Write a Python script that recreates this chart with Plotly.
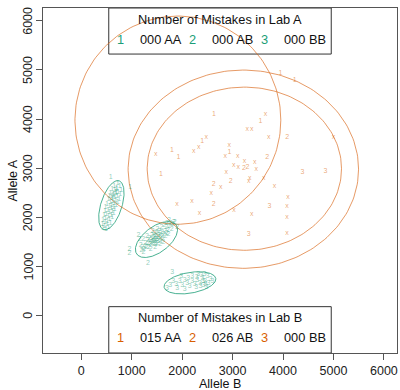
import numpy as np
import plotly.graph_objects as go

TEAL = "#1b9e77"
ORANGE = "#d95f02"

# Lab A genotype clusters (Allele B, Allele A)
lab_a_aa_x = [720, 650, 760, 700, 610, 790, 660, 730, 580, 690, 770, 630, 560, 710, 660, 600, 750, 540,
              680, 620, 580, 720, 650, 510, 600, 690, 560, 640, 480, 590, 660, 530, 610, 470, 560, 640,
              500, 590, 450, 540, 610, 480, 560, 430, 520, 470, 580, 420, 510, 460, 540, 430, 490,
              640, 680, 610, 700, 584, 968]
lab_a_aa_y = [2700, 2640, 2630, 2600, 2570, 2560, 2545, 2520, 2500, 2490, 2470, 2455, 2430, 2420, 2400,
              2390, 2370, 2360, 2350, 2330, 2310, 2300, 2280, 2270, 2255, 2240, 2225, 2210, 2200, 2185,
              2160, 2150, 2130, 2120, 2100, 2090, 2070, 2050, 2040, 2020, 2000, 1990, 1960, 1950, 1930,
              1900, 1890, 1870, 1850, 1820, 1800, 1780, 1760, 2480, 2520, 2430, 2580, 2823, 2620]

lab_a_ab_x = [1490, 1455, 1530, 1420, 1560, 1390, 1600, 1470, 1515, 1440, 1360, 1640, 1570, 1660, 1720,
              1610, 1340, 1290, 1240, 1320, 1395, 1450, 1545, 1690, 1750, 1790, 1730, 1670, 1230, 1190,
              1175, 1270, 1375, 1465, 1565, 1625, 1510, 1810, 1850, 1765, 1160, 1225, 1495, 1590, 1415,
              1350, 1300, 1645, 1420, 1470, 1500, 1440, 1380, 1530, 1410, 1480, 1560, 1330, 1600, 1700,
              1270, 1210, 1700, 1900, 954, 954, 1320, 1133, 1740, 1830]
lab_a_ab_y = [1548, 1510, 1590, 1570, 1520, 1495, 1620, 1615, 1470, 1445, 1455, 1660, 1680, 1720, 1730,
              1560, 1400, 1385, 1350, 1530, 1630, 1670, 1720, 1790, 1815, 1760, 1665, 1610, 1290, 1340,
              1430, 1475, 1355, 1395, 1445, 1490, 1760, 1850, 1905, 1885, 1545, 1560, 1690, 1805, 1715,
              1585, 1610, 1845, 1520, 1560, 1510, 1590, 1530, 1640, 1470, 1460, 1580, 1470, 1700, 1680,
              1420, 1400, 1880, 1790, 1344, 1275, 1060, 1636, 1940, 1900]

lab_a_bb_x = [1800, 1700, 1760, 1820, 1880, 1950, 1900, 2000, 2050, 2100, 2150, 2120, 2200, 2250, 2300,
              2280, 2350, 2400, 2420, 2450, 2500, 2520, 2480, 2560, 2380, 2200, 2050, 1980, 2320, 2440,
              2600, 2360, 2410, 2460, 2290]
lab_a_bb_y = [890, 560, 620, 700, 640, 700, 560, 620, 720, 660, 600, 760, 700, 640, 720, 580, 660, 760,
              620, 700, 800, 660, 580, 740, 820, 800, 540, 800, 840, 840, 700, 600, 700, 640, 780]

# Lab B calls: label per point ("x" marks a mistaken call)
lab_b_x = [2631, 3650, 3551, 3292, 3382, 3716, 4081, 5001, 2398, 2478, 2329, 2229, 1474, 1796, 1927,
           2935, 2935, 2855, 3100, 3237, 3438, 3024, 3114, 3223, 3292, 3471, 3684, 2875, 1578, 2961,
           3338, 3322, 3620, 2766, 2623, 3829, 2577, 1896, 2194, 2623, 3028, 2345, 3378, 4097, 4081,
           4081, 3730, 4081, 3318, 4385, 4842, 3948, 4232]
lab_b_y = [4100, 4094, 3964, 3789, 3789, 3638, 3638, 3638, 3550, 3622, 3434, 3347, 3292, 3361, 3231,
           3475, 3316, 3245, 3245, 3143, 3117, 3056, 3027, 2990, 3021, 2974, 3214, 2919, 2872, 2740,
           2787, 2736, 2797, 2603, 2668, 2634, 2485, 2267, 2338, 2257, 2151, 2074, 2063, 2400, 2226,
           2008, 2216, 1676, 1656, 2919, 2945, 4936, 4799]
lab_b_lab = ["1", "x", "1", "x", "x", "x", "2", "x", "1", "x", "x", "x", "x", "1", "1",
             "x", "1", "x", "x", "x", "x", "x", "x", "2", "2", "x", "2", "x", "1", "2",
             "x", "x", "x", "x", "2", "x", "x", "x", "x", "2", "x", "x", "x", "x", "x",
             "x", "3", "x", "3", "3", "3", "1", "1"]

# Cluster ellipses: centre x, centre y, semi-axis 1, semi-axis 2, rotation (deg)
lab_a_ellipses = [(596, 2247, 520, 210, 73), (1490, 1548, 490, 260, 38), (2154, 668, 520, 210, 10)]
lab_b_ellipses = [(1915, 3978, 2041, 2118, 0), (3213, 2980, 2285, 2017, 0), (3233, 2990, 1927, 1660, 0)]

# Legend content
legend_a_title = "Number of Mistakes in Lab A"
legend_b_title = "Number of Mistakes in Lab B"
legend_keys = ["1", "2", "3"]
legend_a_counts = ["000 AA", "000 AB", "000 BB"]
legend_b_counts = ["015 AA", "026 AB", "000 BB"]

ticks = [0, 1000, 2000, 3000, 4000, 5000, 6000]
axis_range = [-760, 6260]


def ellipse_path(cx, cy, a, b, ang):
    t = np.linspace(0, 2 * np.pi, 200)
    th = np.deg2rad(ang)
    x = cx + a * np.cos(t) * np.cos(th) - b * np.sin(t) * np.sin(th)
    y = cy + a * np.cos(t) * np.sin(th) + b * np.sin(t) * np.cos(th)
    return x, y


fig = go.Figure()

for params in lab_a_ellipses:
    ex, ey = ellipse_path(*params)
    fig.add_trace(go.Scatter(x=ex, y=ey, mode="lines", line=dict(color="rgba(27,158,119,0.8)", width=1),
                             hoverinfo="skip", showlegend=False))
for params in lab_b_ellipses:
    ex, ey = ellipse_path(*params)
    fig.add_trace(go.Scatter(x=ex, y=ey, mode="lines", line=dict(color="rgba(217,100,20,0.65)", width=1),
                             hoverinfo="skip", showlegend=False))

teal_pts = "rgba(27,158,119,0.5)"
for xs, ys, lab in [(lab_a_aa_x, lab_a_aa_y, "1"), (lab_a_ab_x, lab_a_ab_y, "2"), (lab_a_bb_x, lab_a_bb_y, "3")]:
    fig.add_trace(go.Scatter(x=xs, y=ys, mode="text", text=[lab] * len(xs),
                             textfont=dict(family="Liberation Sans", size=7, color=teal_pts),
                             hoverinfo="skip", showlegend=False))

fig.add_trace(go.Scatter(x=lab_b_x, y=lab_b_y, mode="text", text=lab_b_lab,
                         textfont=dict(family="Liberation Sans", size=7, color="rgba(217,95,2,0.55)"),
                         hoverinfo="skip", showlegend=False))

# Legend boxes and their text
box_x0, box_x1 = 544, 4956
fig.add_shape(type="rect", x0=box_x0, x1=box_x1, y0=5323, y1=axis_range[1], xref="x", yref="y",
              line=dict(color="#333", width=1), layer="below")
fig.add_shape(type="rect", x0=box_x0, x1=box_x1, y0=axis_range[0], y1=183, xref="x", yref="y",
              line=dict(color="#333", width=1), layer="below")

key_x = [771, 2213, 3630]
count_x = [1127, 2557, 3988]
lfont = dict(family="Liberation Sans", size=12.8, color="#111")
for title, counts, col, ty, ry in [(legend_a_title, legend_a_counts, TEAL, 6030, 5622),
                                   (legend_b_title, legend_b_counts, ORANGE, -41, -448)]:
    fig.add_annotation(x=2750, y=ty, text=title, showarrow=False, xanchor="center", yanchor="middle",
                       font=lfont)
    for k, kx, c, cx in zip(legend_keys, key_x, counts, count_x):
        fig.add_annotation(x=kx, y=ry, text=k, showarrow=False, xanchor="center", yanchor="middle",
                           font=dict(family="Liberation Sans", size=12.8, color=col))
        fig.add_annotation(x=cx, y=ry, text=c, showarrow=False, xanchor="left", yanchor="middle",
                           font=lfont)

# Vertical (rotated) labels for the y axis ticks, and both axis titles
tfont = dict(family="Liberation Sans", size=12.5, color="#222")
for t in ticks:
    fig.add_annotation(x=0, xref="paper", y=t, yref="y", text=str(t), textangle=-90, showarrow=False,
                       xanchor="center", yanchor="middle", xshift=-15, font=tfont)
fig.add_annotation(x=0, xref="paper", y=0.5, yref="paper", text="Allele A", textangle=-90,
                   showarrow=False, xanchor="center", yanchor="middle", xshift=-31,
                   font=dict(family="Liberation Sans", size=12.5, color="#111"))
fig.add_annotation(x=0.5, xref="paper", y=0, yref="paper", text="Allele B", showarrow=False,
                   xanchor="center", yanchor="middle", yshift=-31,
                   font=dict(family="Liberation Sans", size=12.5, color="#111"))

axis_common = dict(range=axis_range, tickvals=ticks,
                   showgrid=False, zeroline=False, showline=True, mirror=True, automargin=False,
                   linecolor="#555", linewidth=1, ticks="outside", ticklen=6, tickcolor="#555",
                   tickfont=tfont)

fig.update_layout(
    width=400, height=390,
    margin=dict(l=43, r=3, t=8, b=37),
    paper_bgcolor="white", plot_bgcolor="white",
    xaxis=dict(**axis_common, ticktext=[str(t) for t in ticks]),
    yaxis=dict(**axis_common, showticklabels=False),
    showlegend=False,
)

fig.write_html("out.html")
